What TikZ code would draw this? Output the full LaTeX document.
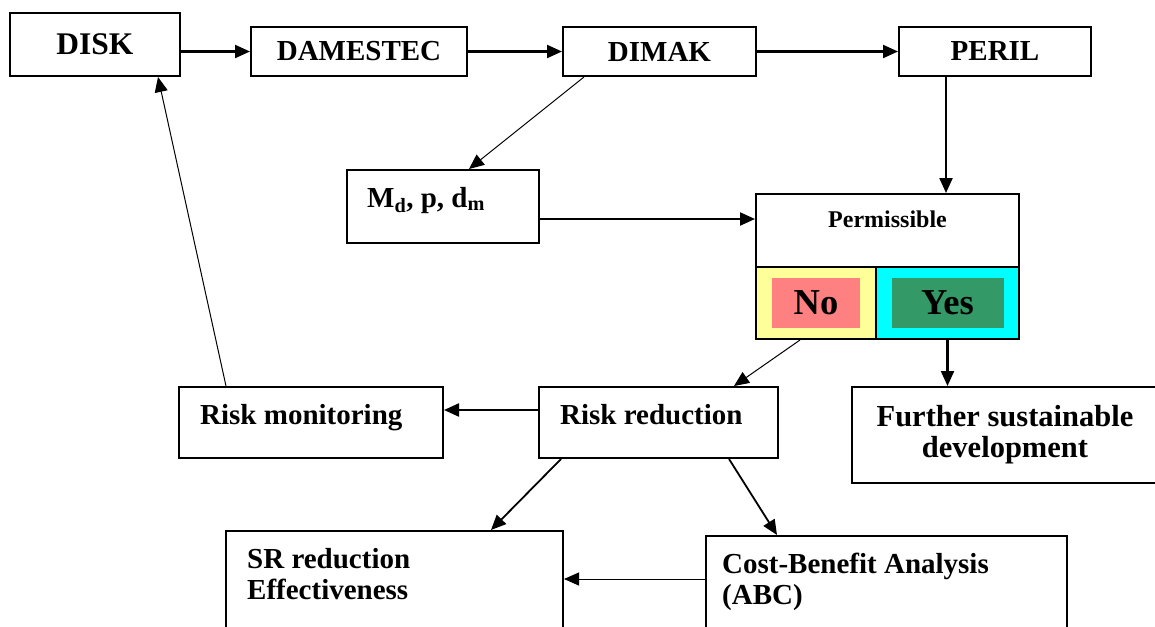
\documentclass[tikz,border=0pt]{standalone}
\usepackage{fontspec}
\setmainfont{Liberation Serif}
\usetikzlibrary{arrows.meta,calc}
\definecolor{noyellow}{HTML}{FFFF99}
\definecolor{yescyan}{HTML}{00FFFF}
\definecolor{nopink}{HTML}{FF8080}
\definecolor{yesgreen}{HTML}{339966}

\begin{document}
\begin{tikzpicture}[x=1pt,y=-1pt,>={Triangle[length=15pt,width=13pt]},
		box/.style={draw,line width=2pt,inner sep=0pt,font=\fontsize{29}{31}\selectfont\bfseries},
		txt/.style={inner sep=0pt,font=\fontsize{29}{31}\selectfont\bfseries},
		link/.style={->,line width=2.2pt},
		midlink/.style={->,line width=1.8pt},
		thinlink/.style={->,line width=1pt}]
	\useasboundingbox (0,0) rectangle (1155,626);
	\clip (0,0) rectangle (1155,626);
	% top row
	\node[box,minimum width=170,minimum height=63,font=\fontsize{31.5}{32}\selectfont\bfseries] (disk) at (95,44.5) {DISK};
	\node[box,minimum width=216,minimum height=49] (damestec) at (359,51.5) {DAMESTEC};
	\node[box,minimum width=193,minimum height=49] (dimak) at (659.5,51.5) {DIMAK};
	\node[box,minimum width=192,minimum height=49] (peril) at (995,51.5) {PERIL};
	% parameters and check
	\node[box,minimum width=192,minimum height=73] (md) at (443,206.5) {};
	\node[txt,anchor=base west] (mdt) at ($(md.west)+(21,0.5)$) {M\textsubscript{d}, p, d\textsubscript{m}};
	\node[box,minimum width=263,minimum height=73] (perm) at (887.5,230.5) {};
	\node[txt,anchor=base,font=\fontsize{24}{24}\selectfont\bfseries] (permt) at ($(perm.north)+(0,34)$) {Permissible};
	\node[box,fill=noyellow,minimum width=120,minimum height=72] (no) at (816,303) {};
	\node[box,fill=yescyan,minimum width=143,minimum height=72] (yes) at (947.5,303) {};
	\node[txt,fill=nopink,minimum width=88,minimum height=50,font=\fontsize{36.5}{37}\selectfont\bfseries] (noin) at (no) {No};
	\node[txt,fill=yesgreen,minimum width=112,minimum height=50,font=\fontsize{36.5}{37}\selectfont\bfseries] (yesin) at (yes) {Yes};
	% reduction row
	\node[box,minimum width=264,minimum height=71] (riskmon) at (311,422.5) {};
	\node[txt,anchor=base west] (riskmont) at ($(riskmon.west)+(22,1.5)$) {Risk monitoring};
	\node[box,minimum width=239,minimum height=71] (riskred) at (658.5,422.5) {};
	\node[txt,anchor=base west] (riskredt) at ($(riskred.west)+(22,1.5)$) {Risk reduction};
	\node[box,minimum width=306,minimum height=96,align=center,font=\fontsize{30.5}{31}\selectfont\bfseries] (further) at (1005,435) {Further sustainable\\development};
	% bottom row
	\node[box,minimum width=337,minimum height=110] (sr) at (394.5,586) {};
	\node[txt,anchor=north west,align=left] (srt) at ($(sr.north west)+(22,18)$) {SR reduction\\Effectiveness};
	\node[box,minimum width=361,minimum height=104] (cba) at (886.5,588) {};
	\node[txt,anchor=north west,align=left] (cbat) at ($(cba.north west)+(17,18)$) {Cost-Benefit Analysis\\(ABC)};
	% connectors
	\draw[link] (disk.east |- damestec.west) -- (damestec.west);
	\draw[link] (damestec) -- (dimak);
	\draw[link] (dimak) -- (peril);
	\draw[thinlink] ($(dimak.south west)+(22,0)$) -- ($(md.north west)+(123,0)$);
	\draw[link] ($(peril.south west)+(48,0)$) coordinate (pdown) -- (pdown |- perm.north);
	\draw[link] ($(md.east)+(0,12.5)$) coordinate (mdout) -- (mdout -| perm.west);
	\draw[thinlink] ($(no.south west)+(45,0)$) -- ($(riskred.north west)+(196,0)$);
	\draw[link] (yes.south) -- (yes.south |- further.north);
	\draw[link] ($(riskred.west)+(0,-12.5)$) coordinate (rrout) -- (rrout -| riskmon.east);
	\draw[thinlink] ($(riskmon.north west)+(48,0)$) -- ($(disk.south west)+(149,0)$);
	\draw[midlink] ($(riskred.south west)+(23,0)$) -- ($(sr.north west)+(266,0)$);
	\draw[midlink] ($(riskred.south west)+(191,0)$) -- ($(cba.north west)+(72,0)$);
	\draw[thinlink] ($(cba.west)+(0,-9)$) coordinate (cbaout) -- (cbaout -| sr.east);
\end{tikzpicture}
\end{document}
